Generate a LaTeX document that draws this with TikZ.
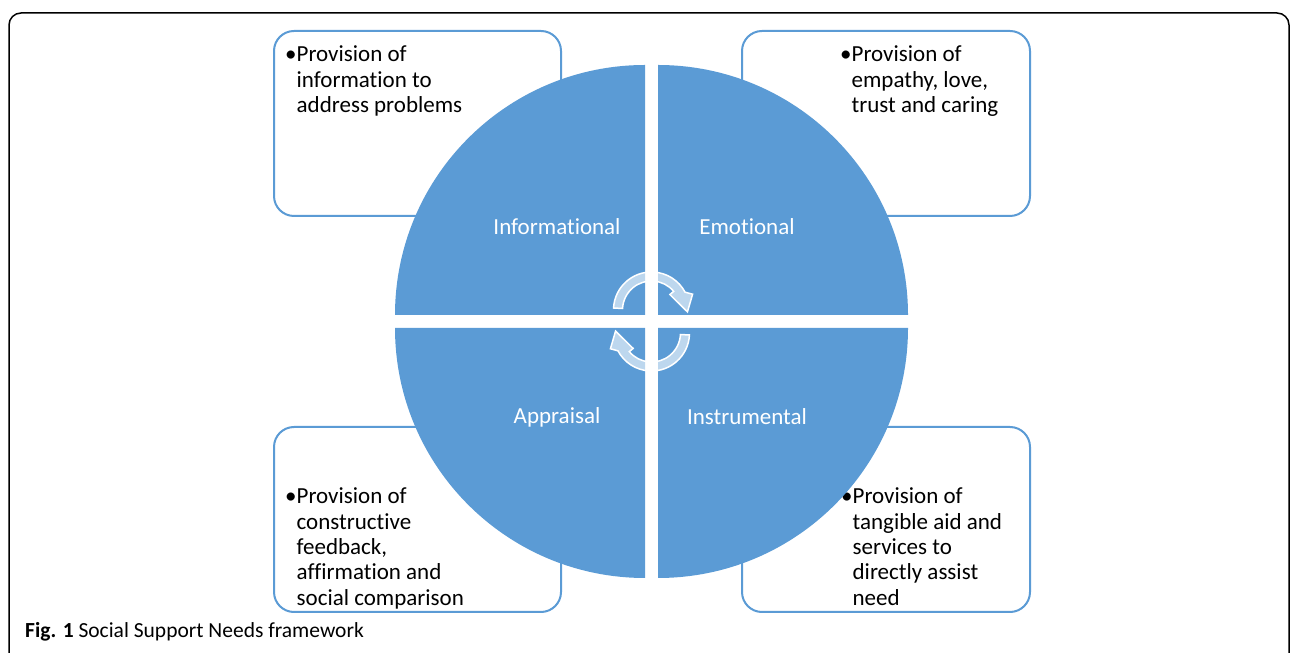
\documentclass[tikz,border=0pt]{standalone}
\usepackage{fontspec}
\setmainfont{Carlito}[Ligatures=NoCommon]
\definecolor{quadblue}{HTML}{5B9BD5}

\begin{document}
\begin{tikzpicture}[x=1pt, y=1pt, font=\fontsize{23}{25.3}\selectfont,
    needbox/.style={draw=quadblue, line width=2pt, rounded corners=20pt, fill=white},
    quadrant/.style={fill=quadblue},
    quadlabel/.style={text=white, inner sep=0pt},
    needtext/.style={anchor=base west, inner sep=0pt},
    cyclearrow/.style={fill=white, fill opacity=0.6, draw=white, line width=1.5pt}]

        \useasboundingbox (0,0) rectangle (1290,653);
        % frame
        \draw[line width=1.5pt, rounded corners=12pt] (9,-30) -- (9,640) -- (1289,640) -- (1289,-30);

        % boxes
        \draw[needbox] (274,437) rectangle (561,622);
        \draw[needbox] (742,437) rectangle (1030,622);
        \draw[needbox] (274,41) rectangle (561,226);
        \draw[needbox] (742,41) rectangle (1030,226);

        % box texts
        \node[needtext] (infotext) at (285,591)
          {\begin{tabular}[t]{@{}l@{}l@{}}\textbullet&Provision of\\&information to\\&address problems\end{tabular}};
        \node[needtext] (emotext) at (840,591)
          {\begin{tabular}[t]{@{}l@{}l@{}}\textbullet&Provision of\\&empathy, love,\\&trust and caring\end{tabular}};
        \node[needtext] (apptext) at (285,149)
          {\begin{tabular}[t]{@{}l@{}l@{}}\textbullet&Provision of\\&constructive\\&feedback,\\&affirmation and\\&social comparison\end{tabular}};
        \node[needtext] (insttext) at (841,149)
          {\begin{tabular}[t]{@{}l@{}l@{}}\textbullet&Provision of\\&tangible aid and\\&services to\\&directly assist\\&need\end{tabular}};

        % quadrants
        \fill[quadrant] (645,338) -- (395,338) arc[start angle=180, end angle=90, radius=250] -- cycle;
        \fill[quadrant] (658,338) -- (658,588) arc[start angle=90, end angle=0, radius=250] -- cycle;
        \fill[quadrant] (645,325) -- (645,75) arc[start angle=270, end angle=180, radius=250] -- cycle;
        \fill[quadrant] (658,325) -- (908,325) arc[start angle=0, end angle=-90, radius=250] -- cycle;

        \node[quadlabel] (info) at (557,426) {Informational};
        \node[quadlabel] (emo) at (747,426) {Emotional};
        \node[quadlabel] (app) at (557,236) {Appraisal};
        \node[quadlabel] (inst) at (747,236) {Instrumental};

        % cycle arrows
        \foreach \turn in {0,180} {
          \begin{scope}[shift={(651.5,331.5)}, rotate=\turn, shift={(0,11.5)}]
            \draw[cyclearrow] (177:38) arc[start angle=177, end angle=28, radius=38]
              -- (21:44) -- (-3:36) -- (40:24) -- (40:29)
              arc[start angle=40, end angle=177, radius=29] -- cycle;
          \end{scope}
        }

        % caption
        \node[anchor=base west, inner sep=0pt, font=\fontsize{21.5}{25}\selectfont] (caption) at (25,16)
          {\textbf{Fig. 1} Social Support Needs framework};

\end{tikzpicture}
\end{document}
